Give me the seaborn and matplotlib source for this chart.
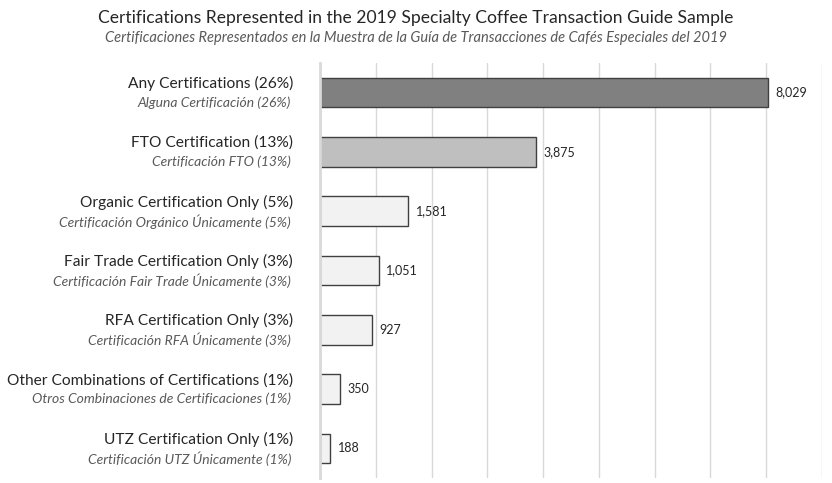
import numpy as np
import pandas as pd
import seaborn as sns
import matplotlib.pyplot as plt
import matplotlib.transforms as mtransforms

labels_en = ["Any Certifications (26%)", "FTO Certification (13%)",
             "Organic Certification Only (5%)", "Fair Trade Certification Only (3%)",
             "RFA Certification Only (3%)", "Other Combinations of Certifications (1%)",
             "UTZ Certification Only (1%)"]
labels_es = ["Alguna Certificación (26%)", "Certificación FTO (13%)",
             "Certificación Orgánico Únicamente (5%)", "Certificación Fair Trade Únicamente (3%)",
             "Certificación RFA Únicamente (3%)", "Otros Combinaciones de Certificaciones (1%)",
             "Certificación UTZ Únicamente (1%)"]
counts = [8029, 3875, 1581, 1051, 927, 350, 188]
colors = ["#808080", "#BFBFBF", "#F2F2F2", "#F2F2F2", "#F2F2F2", "#F2F2F2", "#F2F2F2"]

df = pd.DataFrame({"label": labels_en, "count": counts})

sns.set_style("white")
plt.rcParams['font.family'] = ['Lato', 'DejaVu Sans']

fig = plt.figure(figsize=(8.32, 4.83), dpi=100)
ax = fig.add_axes([320 / 832, 5 / 483, 502 / 832, 415 / 483])

sns.barplot(data=df, y="label", x="count", hue="label", palette=colors,
            width=0.5, edgecolor="#404040", linewidth=1, legend=False, ax=ax)

ax.set_xlim(0, 9000)
ax.set_xticks(np.arange(0, 9001, 1000))
ax.xaxis.grid(True, color="#D9D9D9", linewidth=1)
ax.set_axisbelow(True)
ax.tick_params(axis="x", length=0, labelbottom=False)
ax.tick_params(axis="y", length=0, labelleft=False)
ax.set_xlabel("")
ax.set_ylabel("")
for s in ["top", "right", "bottom"]:
    ax.spines[s].set_visible(False)
ax.spines["left"].set_color("#D9D9D9")
ax.spines["left"].set_linewidth(2)

# two-line category labels: english + spanish italic
trans = mtransforms.blended_transform_factory(fig.transFigure, ax.transData)
for i, (en, es, c) in enumerate(zip(labels_en, labels_es, counts)):
    ax.text(293 / 832, i - 0.15, en, transform=trans, ha="right", va="center",
            fontsize=11.2, color="#262626")
    ax.text(291 / 832, i + 0.17, es, transform=trans, ha="right", va="center",
            fontsize=10, style="italic", color="#595959")
    ax.text(c + 140, i, f"{c:,}", ha="left", va="center", fontsize=9, color="#262626")

fig.text(0.5, 1 - 18 / 483, "Certifications Represented in the 2019 Specialty Coffee Transaction Guide Sample",
         ha="center", va="center", fontsize=12.6, color="#262626")
fig.text(0.5, 1 - 38 / 483, "Certificaciones Representados en la Muestra de la Guía de Transacciones de Cafés Especiales del 2019",
         ha="center", va="center", fontsize=10.5, style="italic", color="#595959")

fig.savefig("out.png", dpi=100)
